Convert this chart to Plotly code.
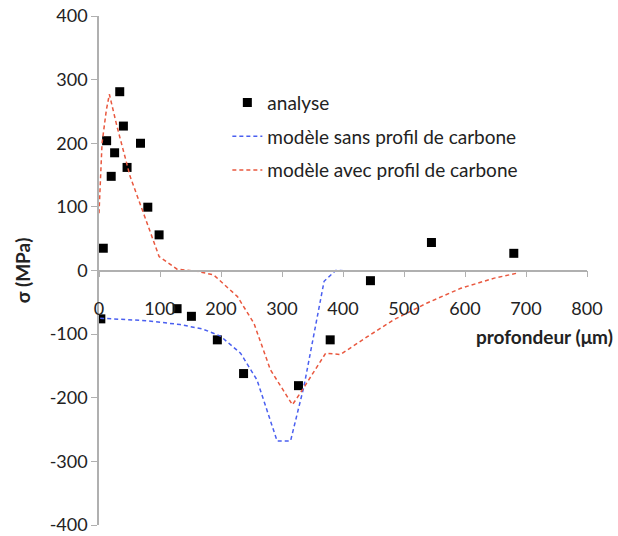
import plotly.graph_objects as go

# analyse (points mesurés)
analyse_x = [3, 7, 12.5, 20, 25.6, 34, 40, 46, 68, 80, 98.5, 128, 151.5, 194, 237, 327, 379, 445, 545, 680]
analyse_y = [-76, 35, 204, 148, 185, 281, 227, 162, 200, 99.5, 56, -60, -72, -109, -162, -181, -109, -16, 44, 27]

# modèle sans profil de carbone
sans_x = [2, 40, 79, 133, 170, 199, 232, 259, 292, 314, 336, 369, 388, 450, 550, 686]
sans_y = [-75, -77, -79, -85, -92, -103, -130, -172, -268, -268, -182, -17, 0, -1, -1, -1]

# modèle avec profil de carbone
avec_x = [0, 5, 12, 17, 29.6, 51, 79, 98.5, 128, 160, 188, 227, 254, 281, 317, 330.5, 371.6, 396, 440, 484, 538, 593, 648, 686]
avec_y = [90, 200, 252, 277, 226, 148, 74, 22, 2, -1, -7, -41, -83, -156, -211, -192, -130, -132, -104, -77, -51, -28, -12, -4]

x_ticks = [0, 100, 200, 300, 400, 500, 600, 700, 800]
y_ticks = [-400, -300, -200, -100, 0, 100, 200, 300, 400]

fig = go.Figure()

fig.add_trace(go.Scatter(
    x=analyse_x, y=analyse_y, mode="markers", name="analyse",
    marker=dict(symbol="square", size=9, color="black"),
    legendgroup="a"
))
fig.add_trace(go.Scatter(
    x=sans_x, y=sans_y, mode="lines", name="modèle sans profil de carbone",
    line=dict(color="#4a5ff0", width=1.5, dash="4px,3px"),
    legendgroup="b"
))
fig.add_trace(go.Scatter(
    x=avec_x, y=avec_y, mode="lines", name="modèle avec profil de carbone",
    line=dict(color="#e9583f", width=1.5, dash="4px,3px"),
    legendgroup="c"
))

fig.update_layout(
    width=618, height=536,
    margin=dict(l=99, r=31, t=16, b=11, autoexpand=False),
    plot_bgcolor="white", paper_bgcolor="white",
    font=dict(family="Lato", size=18, color="#222"),
    legend=dict(
        x=0.263, y=0.867, xanchor="left", yanchor="top",
        font=dict(size=19), bgcolor="rgba(0,0,0,0)",
        tracegroupgap=6, traceorder="grouped",
    ),
    annotations=[
        dict(text="<b>σ (MPa)</b>", xref="paper", yref="paper",
             x=-0.156, y=0.5, xanchor="center", yanchor="middle",
             textangle=-90, showarrow=False, font=dict(size=19)),
        dict(text="<b>profondeur (μm)</b>", xref="paper", yref="paper",
             x=1.058, y=0.371, xanchor="right", yanchor="middle",
             showarrow=False, font=dict(size=19)),
    ],
)

fig.update_xaxes(
    range=[0, 800], tickvals=x_ticks, ticktext=[str(v) for v in x_ticks],
    showgrid=False, zeroline=False,
    showline=True, linecolor="#b0b0b0", linewidth=1.5,
    ticks="outside", ticklen=6, tickcolor="#b0b0b0",
    ticklabelstandoff=16,
    anchor="free", position=0.5,
)
fig.update_yaxes(
    range=[-400, 400], tickvals=y_ticks, ticktext=[str(v) for v in y_ticks],
    showgrid=False, zeroline=False,
    showline=True, linecolor="#b0b0b0", linewidth=1.5,
    ticks="outside", ticklen=6, tickcolor="#b0b0b0",
    ticklabeloverflow="allow",
)

# pas de marge autour de la figure dans la page
fig.write_html("out.html", config={"displayModeBar": False},
               post_script="document.body.style.margin='0px';")
